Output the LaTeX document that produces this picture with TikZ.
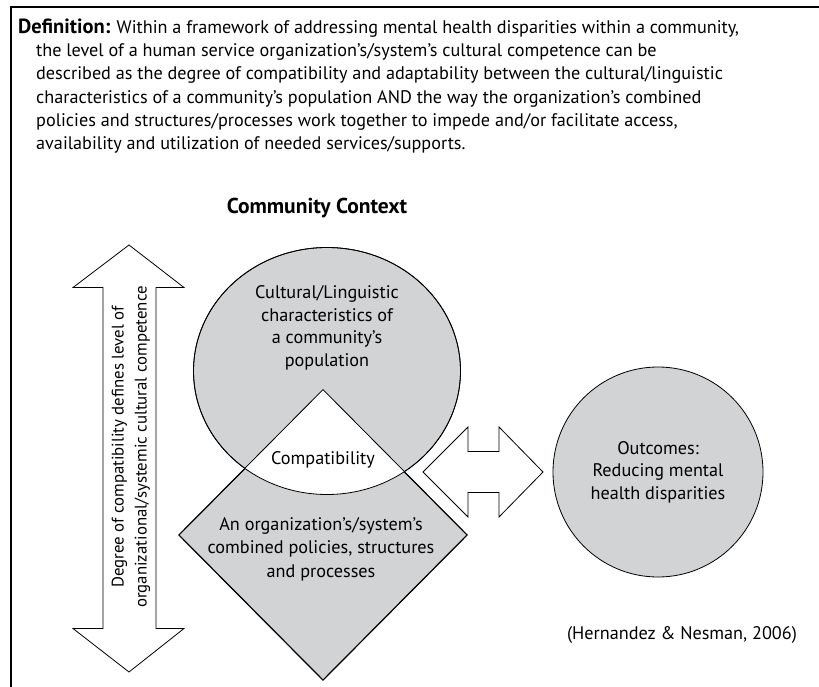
\documentclass[tikz,border=0pt]{standalone}
\usepackage{fontspec}
\setmainfont{PT Sans}
\usetikzlibrary{shapes.geometric,positioning}
\definecolor{shade}{RGB}{209,211,212}
\newcommand{\boldwide}[1]{{\bfseries\fontsize{20.5}{23.3}\selectfont #1}}

\begin{document}
\begin{tikzpicture}[x=1pt,y=-1pt,
   every node/.style={font=\fontsize{18.2}{22.5}\selectfont,align=center,inner sep=0pt},
   blob/.style={fill=shade,draw=black,line width=0.8pt},
   fat arrow/.style={fill=white,draw=black,line width=0.8pt,line join=miter}]
   \useasboundingbox (0,0) rectangle (819,687);
   \draw[line width=1.5pt] (819,7) -- (11,7) -- (11,687);

   \node[anchor=north west,align=left,font=\fontsize{18.2}{23.3}\selectfont] (defn) at (18,18.5)
      {\boldwide{Definition:} Within a framework of addressing mental health disparities within a community,\\
       \hspace*{18pt}the level of a human service organization’s/system’s cultural competence can be\\
       \hspace*{18pt}described as the degree of compatibility and adaptability between the cultural/linguistic\\
       \hspace*{18pt}characteristics of a community’s population AND the way the organization’s combined\\
       \hspace*{18pt}policies and structures/processes work together to impede and/or facilitate access,\\
       \hspace*{18pt}availability and utilization of needed services/supports.};
   \node[font=\bfseries\fontsize{21.5}{22.5}\selectfont] (context) at (317,208) {Community Context};

   \node[ellipse,blob,minimum width=267pt,minimum height=247pt] (culture) at (327,371) {};
   \node[diamond,blob,minimum width=288pt,minimum height=290pt] (org) at (323,535) {};
   % overlap
   \begin{scope}
      \clip (culture.center) ellipse [x radius=133.5pt,y radius=123.5pt];
      \fill[white] (org.north) -- (org.east) -- (org.south) -- (org.west) -- cycle;
   \end{scope}
   \draw[line width=0.8pt] (culture.center) ellipse [x radius=133.5pt,y radius=123.5pt];
   \draw[line width=0.8pt] (org.north) -- (org.east) -- (org.south) -- (org.west) -- cycle;

   \node (culture text) at (327,328) {Cultural/Linguistic\\characteristics of\\a community’s\\population};
   \node (compat) at (323,460) {Compatibility};
   \node[font=\fontsize{18.2}{23.5}\selectfont] (org text) at (321,549)
      {An organization’s/system’s\\combined policies, structures\\and processes};

   \node[circle,blob,minimum size=210pt] (outcome) at (658,472) {};
   \node (outcome text) at (outcome.center) {Outcomes:\\Reducing mental\\health disparities};

   % link arrow
   \coordinate (link) at (483,472);
   \draw[fat arrow,shift={(link)}] (-60,0) -- (-15,-45) -- (-15,-20.5) -- (16,-20.5) -- (16,-45)
      -- (60,0) -- (16,45) -- (16,20.5) -- (-15,20.5) -- (-15,45) -- cycle;

   % degree arrow
   \coordinate (degree) at (129,458.5);
   \draw[fat arrow,shift={(degree)}] (0,-213.5) -- (55,-171) -- (27,-171) -- (27,170) -- (55,170)
      -- (0,213.5) -- (-56,170) -- (-26,170) -- (-26,-171) -- (-56,-171) -- cycle;
   \node[rotate=90,font=\fontsize{16.8}{23}\selectfont] (degree text) at (131,447)
      {Degree of compatibility defines level of\\organizational/systemic cultural competence};

   \node (cite) at (682,635) {(Hernandez \& Nesman, 2006)};
\end{tikzpicture}
\end{document}
